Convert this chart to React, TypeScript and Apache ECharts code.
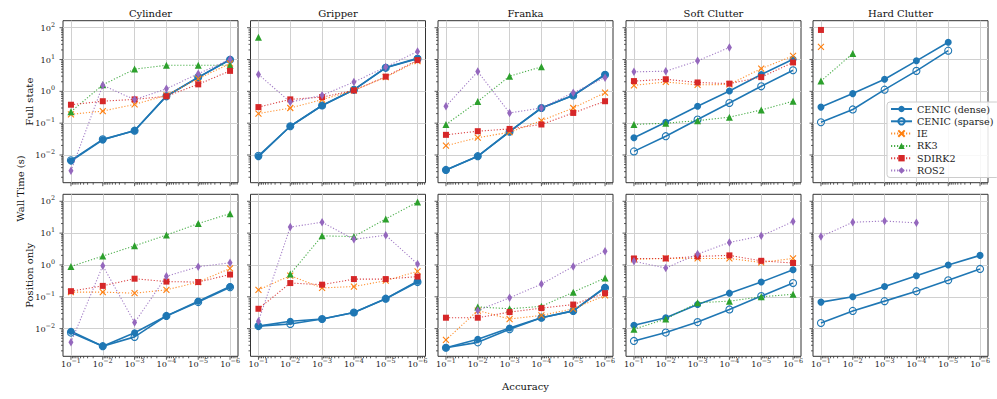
import { useEffect, useRef } from 'react';
import * as echarts from 'echarts';

// ---------------- data ----------------
const ACCURACY = [1e-1, 1e-2, 1e-3, 1e-4, 1e-5, 1e-6];
const PANEL_TITLES = ['Cylinder', 'Gripper', 'Franka', 'Soft Clutter', 'Hard Clutter'];
const ROW_TITLES = ['Full state', 'Position only'];
const SERIES_NAMES = ['CENIC (dense)', 'CENIC (sparse)', 'IE', 'RK3', 'SDIRK2', 'ROS2'];
const X_MAJOR_TICKS = [1e-1, 1e-2, 1e-3, 1e-4, 1e-5, 1e-6];
const Y_MAJOR_TICKS = [1e-2, 1e-1, 1, 10, 100];

type Row = (number | null)[];
const _ = null;

// Full state (one row per panel: Cylinder, Gripper, Franka, Soft Clutter, Hard Clutter)
const fullCenicDense: Row[] = [
  [0.0065, 0.030, 0.059, 0.72, 2.7, 10],
  [0.0089, 0.080, 0.36, 1.13, 5.6, 11],
  [0.0034, 0.0091, 0.055, 0.30, 0.75, 3.4],
  [0.035, 0.107, 0.34, 1.02, 3.4, 10.2],
  [0.32, 0.85, 2.4, 9.1, 35, _],
];
const fullCenicSparse: Row[] = [
  [0.0068, 0.031, 0.058, 0.70, 2.8, 9.8],
  [0.0095, 0.080, 0.36, 1.12, 5.5, 10.5],
  [0.0034, 0.0092, 0.054, 0.30, 0.74, 3.3],
  [0.013, 0.039, 0.13, 0.43, 1.44, 4.6],
  [0.107, 0.27, 1.13, 4.4, 19, _],
];
const fullIE: Row[] = [
  [0.19, 0.24, 0.39, 0.75, 2.5, 7.5],
  [0.20, 0.30, 0.55, 1.07, 2.8, 8.9],
  [0.0196, 0.035, 0.052, 0.12, 0.30, 0.91],
  [1.55, 1.97, 1.6, 1.65, 5.2, 13],
  [25, _, _, _, _, _],
];
const fullRK3: Row[] = [
  [0.23, 1.6, 5.0, 6.6, 6.6, 6.6],
  [50, _, _, _, _, _],
  [0.091, 0.48, 3.0, 5.9, _, _],
  [0.091, 0.10, 0.12, 0.155, 0.26, 0.49],
  [2.1, 15.5, _, _, _, _],
];
const fullSDIRK2: Row[] = [
  [0.38, 0.49, 0.56, 0.70, 1.66, 4.4],
  [0.32, 0.56, 0.66, 1.07, 2.9, 9.6],
  [0.043, 0.056, 0.066, 0.091, 0.21, 0.49],
  [2.1, 2.4, 1.9, 1.75, 2.8, 8.1],
  [85, _, _, _, _, _],
];
const fullROS2: Row[] = [
  [0.0032, 1.55, 0.55, 1.2, 3.6, 10.2],
  [3.4, 0.46, 0.75, 1.97, 5.8, 18],
  [0.34, 4.2, 0.21, 0.30, 0.91, 2.7],
  [4.1, 4.3, 9.1, 24, _, _],
  [_, _, _, _, _, _],
];

// Position only
const posCenicDense: Row[] = [
  [0.0083, 0.0028, 0.0074, 0.025, 0.073, 0.21],
  [0.012, 0.017, 0.020, 0.032, 0.087, 0.31],
  [0.0025, 0.0046, 0.0105, 0.022, 0.036, 0.20],
  [0.0127, 0.022, 0.057, 0.13, 0.29, 0.71],
  [0.068, 0.10, 0.21, 0.46, 1.0, 2.0],
];
const posCenicSparse: Row[] = [
  [0.0075, 0.0028, 0.0055, 0.025, 0.068, 0.20],
  [0.012, 0.014, 0.020, 0.032, 0.087, 0.29],
  [0.0025, 0.0037, 0.0096, 0.022, 0.036, 0.19],
  [0.0041, 0.0075, 0.016, 0.040, 0.105, 0.27],
  [0.015, 0.036, 0.073, 0.15, 0.33, 0.75],
];
const posIE: Row[] = [
  [0.14, 0.14, 0.13, 0.165, 0.29, 0.78],
  [0.165, 0.46, 0.19, 0.21, 0.32, 0.63],
  [0.0044, 0.037, 0.020, 0.026, 0.042, 0.11],
  [1.5, 1.6, 1.6, 1.6, 1.2, 1.6],
  [_, _, _, _, _, _],
];
const posRK3: Row[] = [
  [0.9, 1.9, 4.0, 8.7, 20, 41],
  [_, 0.52, 8.2, 7.8, 28, 95],
  [_, 0.048, 0.042, 0.050, 0.14, 0.39],
  [0.0096, 0.020, 0.065, 0.073, 0.10, 0.12],
  [_, _, _, _, _, _],
];
const posSDIRK2: Row[] = [
  [0.15, 0.22, 0.37, 0.30, 0.29, 0.50],
  [0.042, 0.27, 0.24, 0.36, 0.36, 0.43],
  [0.022, 0.022, 0.033, 0.044, 0.057, 0.13],
  [1.6, 1.6, 1.85, 2.0, 1.35, 1.15],
  [_, _, _, _, _, _],
];
const posROS2: Row[] = [
  [0.0037, 0.95, 0.0155, 0.44, 0.88, 1.17],
  [0.017, 15.5, 22, 6.4, 8.6, 1.07],
  [_, 0.037, 0.093, 0.25, 0.9, 2.7],
  [1.3, 0.8, 2.2, 5.1, 8.2, 23],
  [7.8, 22, 24, 21, _, _],
];

const FULL_ROWS = [fullCenicDense, fullCenicSparse, fullIE, fullRK3, fullSDIRK2, fullROS2];
const POS_ROWS = [posCenicDense, posCenicSparse, posIE, posRK3, posSDIRK2, posROS2];

// ---------------- layout & style ----------------
const FONT = 'DejaVu Serif';
const X_MIN = Math.pow(10, -6.25);
const X_MAX = Math.pow(10, -0.75);
const Y_MIN = Math.pow(10, -2.87);
const Y_MAX = Math.pow(10, 2.22);
const COL_LEFT = [63, 250.5, 438, 626, 813];
const ROW_TOP = [20.7, 194.3];
const GRID_W = 175;
const GRID_H = 162;

const BLUE = '#1f77b4';
const ORANGE = '#ff7f0e';
const GREEN = '#2ca02c';
const RED = '#d62728';
const PURPLE = '#9467bd';
const DOT = [1.2, 1.8];
const X_PATH = 'path://M0,0L10,10M10,0L0,10';

const STYLES: any[] = [
  { color: BLUE, symbol: 'circle', size: 7, type: 'solid', width: 1.6, fill: BLUE, border: 0 },
  { color: BLUE, symbol: 'circle', size: 7, type: 'solid', width: 1.6, fill: 'rgba(255,255,255,0)', border: 1.1 },
  { color: ORANGE, symbol: X_PATH, size: 6, type: DOT, width: 1.1, fill: 'rgba(255,255,255,0)', border: 1.1 },
  { color: GREEN, symbol: 'triangle', size: 7, type: DOT, width: 1.1, fill: GREEN, border: 0 },
  { color: RED, symbol: 'rect', size: 6, type: DOT, width: 1.1, fill: RED, border: 0 },
  { color: PURPLE, symbol: 'diamond', size: [5, 8.5], type: DOT, width: 1.1, fill: PURPLE, border: 0 },
];

function minorTicks(decades: number[], lo: number, hi: number) {
  const out: number[] = [];
  decades.forEach((d) => {
    for (let k = 2; k <= 9; k++) {
      const v = k * d;
      if (v > lo && v < hi) out.push(v);
    }
  });
  return out;
}
const X_MINOR_TICKS = minorTicks([1e-7, 1e-6, 1e-5, 1e-4, 1e-3, 1e-2, 1e-1], X_MIN, X_MAX);
const Y_MINOR_TICKS = minorTicks([1e-3, 1e-2, 1e-1, 1, 10, 100], Y_MIN, Y_MAX);

function powLabel(v: number) {
  const e = Math.log10(v);
  const r = Math.round(e);
  if (Math.abs(e - r) > 1e-6) return '';
  const s = r < 0 ? '\u2212' + String(-r) : String(r);
  return '{b|10}{s|' + s + '}';
}
const RICH = {
  b: { fontFamily: FONT, fontSize: 8.2, color: '#222', lineHeight: 12 },
  s: { fontFamily: FONT, fontSize: 6.4, color: '#222', lineHeight: 7, verticalAlign: 'top' },
};

function buildOption() {
  const grid: any[] = [];
  const xAxis: any[] = [];
  const yAxis: any[] = [];
  const series: any[] = [];
  const tickData = [
    ...X_MAJOR_TICKS.map((v) => [v, Y_MIN, 3.5, 0]),
    ...X_MINOR_TICKS.map((v) => [v, Y_MIN, 2, 0]),
    ...Y_MAJOR_TICKS.map((v) => [X_MAX, v, 3.5, 1]),
    ...Y_MINOR_TICKS.map((v) => [X_MAX, v, 2, 1]),
  ];

  for (let r = 0; r < 2; r++) {
    const rows = r === 0 ? FULL_ROWS : POS_ROWS;
    for (let c = 0; c < 5; c++) {
      const idx = r * 5 + c;
      grid.push({
        left: COL_LEFT[c], top: ROW_TOP[r], width: GRID_W, height: GRID_H,
        show: true, borderColor: '#333', borderWidth: 1, backgroundColor: 'rgba(0,0,0,0)',
        containLabel: false, outerBoundsMode: 'none',
      });
      xAxis.push({
        type: 'log', logBase: 10, gridIndex: idx, min: X_MIN, max: X_MAX, inverse: true,
        axisLine: { show: false }, axisTick: { show: false },
        splitLine: { show: true, showMinLine: false, showMaxLine: false, lineStyle: { color: '#d0d0d0', width: 1 } },
        axisLabel: {
          show: r === 1, showMinLabel: false, showMaxLabel: false, margin: 2,
          formatter: powLabel, rich: RICH,
        },
      });
      yAxis.push({
        type: 'log', logBase: 10, gridIndex: idx, min: Y_MIN, max: Y_MAX,
        axisLine: { show: false }, axisTick: { show: false },
        splitLine: { show: true, showMinLine: false, showMaxLine: false, lineStyle: { color: '#d0d0d0', width: 1 } },
        axisLabel: {
          show: c === 0, showMinLabel: false, showMaxLabel: false, margin: 8,
          formatter: powLabel, rich: RICH,
        },
      });
      SERIES_NAMES.forEach((name, s) => {
        const vals = rows[s][c];
        const st = STYLES[s];
        const data = ACCURACY.map((a, i) => (vals[i] == null ? null : [a, vals[i]])).filter((d) => d !== null);
        series.push({
          type: 'line', name, xAxisIndex: idx, yAxisIndex: idx, data,
          symbol: st.symbol, symbolSize: st.size, showSymbol: true, z: 2 + s * 0.1,
          lineStyle: { color: st.color, width: st.width, type: st.type, opacity: s < 2 ? 1 : 0.85 },
          itemStyle: { color: st.fill, borderColor: st.color, borderWidth: st.border },
          emphasis: { disabled: true }, silent: true,
        });
      });
      series.push({
        type: 'custom', name: 'ticks', xAxisIndex: idx, yAxisIndex: idx, clip: false, silent: true, z: 5,
        dimensions: ['x', 'y', 'len', 'kind'], encode: { x: 0, y: 1 },
        data: tickData,
        renderItem: (params: any, api: any) => {
          const p = api.coord([api.value(0), api.value(1)]);
          const len = api.value(2);
          const kind = api.value(3);
          const shape = kind === 0
            ? { x1: p[0], y1: p[1], x2: p[0], y2: p[1] + len }
            : { x1: p[0] - len, y1: p[1], x2: p[0], y2: p[1] };
          return { type: 'line', shape, style: { stroke: '#333', lineWidth: 0.8 } };
        },
      });
    }
  }

  const textStyle = (size: number) => ({
    fontSize: size, fontFamily: FONT, fontWeight: 'normal', fill: '#111',
    textAlign: 'center', textVerticalAlign: 'middle',
  });
  const graphic: any[] = [
    ...PANEL_TITLES.map((t, c) => ({ type: 'text', x: COL_LEFT[c] + GRID_W / 2, y: 13, style: { text: t, ...textStyle(10) } })),
    ...ROW_TITLES.map((t, r) => ({ type: 'text', x: 29.5, y: ROW_TOP[r] + GRID_H / 2, rotation: Math.PI / 2, style: { text: t, ...textStyle(10) } })),
    { type: 'text', x: 20.5, y: (ROW_TOP[0] + ROW_TOP[1] + GRID_H) / 2, rotation: Math.PI / 2, style: { text: 'Wall Time (s)', ...textStyle(10) } },
    { type: 'text', x: (COL_LEFT[0] + COL_LEFT[4] + GRID_W) / 2, y: 386, style: { text: 'Accuracy', ...textStyle(10) } },
  ];

  return {
    animation: false,
    backgroundColor: '#ffffff',
    grid, xAxis, yAxis, series, graphic,
    legend: {
      data: SERIES_NAMES, orient: 'vertical', left: 887, top: 102,
      itemWidth: 21, itemHeight: 8, itemGap: 2.3,
      padding: [2, 6, 2, 3],
      backgroundColor: 'rgba(255,255,255,0.85)', borderColor: '#cccccc', borderWidth: 1, borderRadius: 3,
      textStyle: { fontFamily: FONT, fontSize: 9.6, color: '#222', lineHeight: 10 },
      selectedMode: false,
    },
  };
}

export default function App() {
  const ref = useRef<HTMLDivElement>(null);
  useEffect(() => {
    if (!ref.current) return;
    const chart = echarts.init(ref.current, undefined, { renderer: 'svg' });
    chart.setOption(buildOption() as any);
    return () => chart.dispose();
  }, []);
  return (
    <div
      ref={ref}
      style={{ position: 'absolute', left: 0, top: 0, width: 997, height: 399, background: '#fff' }}
    />
  );
}
